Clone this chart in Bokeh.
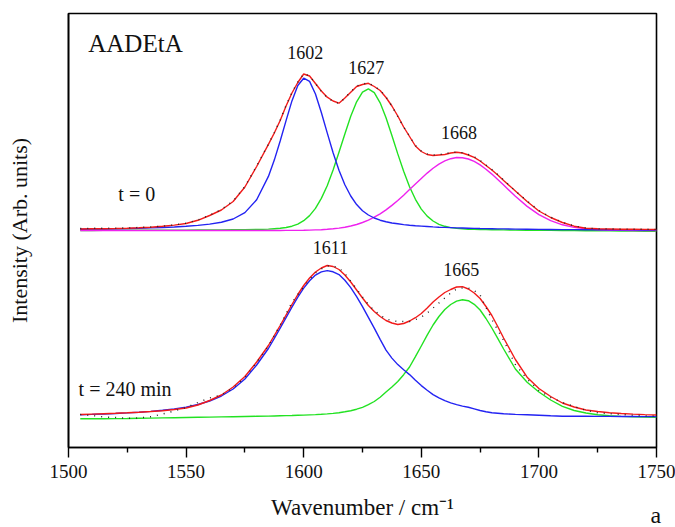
from bokeh.plotting import figure
from bokeh.models import Range1d, FixedTicker, Label, ColumnDataSource
from bokeh.embed import file_html
from bokeh.resources import INLINE
from bokeh.core.properties import value

# ---------------- data (arbitrary intensity units) -------------
wavenumber = [1505, 1510, 1515, 1520, 1525, 1530, 1535, 1540, 1545, 1550,
              1555, 1560, 1565, 1570, 1575, 1580,
              1585, 1587.5, 1590, 1592.5, 1595, 1597.5, 1600, 1602.5, 1605, 1607.5,
              1610, 1612.5, 1615, 1617.5, 1620, 1622.5, 1625, 1627.5, 1630, 1632.5,
              1635, 1637.5, 1640, 1642.5, 1645, 1647.5, 1650, 1652.5, 1655, 1657.5,
              1660, 1662.5, 1665, 1667.5, 1670, 1672.5, 1675, 1677.5, 1680, 1682.5,
              1685,
              1690, 1695, 1700, 1705, 1710, 1715, 1720, 1725, 1730, 1735,
              1740, 1745, 1750]

# t = 0 spectrum (upper)
t0_data = [219.0, 219.2, 219.3, 219.4, 219.6, 220.0, 220.5, 221.3, 222.6, 224.3,
           227.5, 232.3, 238.0, 246.5, 261.0, 281.5,
           303.5, 315.0, 327.5, 342.0, 355.0, 365.5, 373.8, 371.5, 364.0, 356.0,
           350.0, 346.0, 344.0, 349.5, 355.8, 361.5, 363.5, 364.5, 361.0, 357.5,
           350.5, 341.5, 331.0, 320.5, 311.5, 302.0, 296.5, 293.5, 292.5, 293.0,
           293.5, 295.0, 295.5, 294.8, 293.0, 290.8, 287.0, 282.5, 278.0, 273.0,
           267.5,
           256.5, 246.5, 237.0, 230.3, 225.2, 221.5, 219.5, 218.8, 218.6, 218.4,
           218.3, 218.2, 218.1]
t0_fit = [218.5, 218.7, 218.8, 219.0, 219.3, 219.7, 220.3, 221.2, 222.4, 224.0,
          227.2, 232.0, 237.5, 246.0, 260.5, 281.0,
          303.1, 314.5, 327.0, 341.5, 354.5, 365.0, 373.5, 371.5, 364.0, 356.5,
          350.3, 346.5, 344.3, 349.5, 355.3, 361.0, 363.0, 364.2, 361.0, 357.0,
          350.0, 341.5, 331.5, 320.5, 311.0, 301.5, 296.0, 293.0, 292.0, 292.5,
          293.0, 294.5, 295.3, 294.5, 292.5, 290.2, 286.5, 282.0, 277.5, 272.5,
          267.0,
          256.5, 246.0, 236.5, 230.0, 225.0, 221.3, 219.3, 218.7, 218.5, 218.3,
          218.2, 218.1, 218.0]
t0_band_1602 = [218.2, 218.4, 218.5, 218.7, 218.9, 219.2, 219.6, 220.0, 220.5, 221.2,
                222.1, 223.4, 225.3, 228.5, 234.9, 247.8,
                271.1, 287.4, 306.5, 326.9, 346.6, 362.0, 369.3, 366.1, 353.5, 335.0,
                314.6, 294.7, 277.2, 262.8, 251.5, 242.9, 236.8, 232.5, 229.5, 227.3,
                225.8, 224.5, 223.7, 222.9, 222.3, 221.8, 221.4, 221.0, 220.6, 220.3,
                220.1, 219.9, 219.6, 219.45, 219.3, 219.15, 219.0, 218.9, 218.8, 218.65,
                218.6,
                218.4, 218.3, 218.1, 218.0, 217.9, 217.9, 217.8, 217.7, 217.7, 217.6,
                217.6, 217.5, 217.5]
t0_band_1627 = [217.0, 217.0, 217.1, 217.1, 217.2, 217.2, 217.3, 217.3, 217.4, 217.4,
                217.5, 217.5, 217.6, 217.7, 217.8, 218.0,
                218.4, 218.8, 219.2, 220.0, 221.3, 223.4, 226.8, 231.9, 239.1, 249.1,
                261.8, 277.5, 295.2, 313.5, 331.2, 345.7, 355.4, 358.7, 354.9, 344.7,
                329.8, 312.0, 293.6, 276.2, 260.8, 248.2, 238.4, 231.4, 226.5, 223.2,
                221.2, 219.9, 219.1, 218.7, 218.3, 218.15, 218.0, 217.9, 217.8, 217.7,
                217.6,
                217.4, 217.3, 217.2, 217.1, 217.0, 216.9, 216.8, 216.7, 216.6, 216.5,
                216.4, 216.3, 216.3]
t0_band_1668 = [217.0, 217.0, 217.0, 217.0, 217.0, 217.0, 217.0, 217.0, 217.0, 217.0,
                217.0, 217.0, 217.0, 217.0, 217.0, 217.0,
                217.0, 217.0, 217.0, 217.1, 217.1, 217.15, 217.2, 217.4, 217.6, 217.8,
                218.2, 218.7, 219.4, 220.3, 221.5, 223.0, 225.0, 227.4, 230.3, 233.7,
                237.6, 242.1, 247.0, 252.3, 257.9, 263.5, 269.1, 274.4, 279.3, 283.4,
                286.6, 288.8, 290.0, 289.8, 288.5, 286.1, 282.6, 278.3, 273.4, 268.0,
                262.4,
                251.2, 241.1, 232.9, 226.9, 222.7, 220.1, 218.6, 217.8, 217.3, 217.1,
                217.0, 217.0, 217.0]

# t = 240 min spectrum (lower)
t240_data = [33.0, 32.0, 30.5, 30.0, 29.2, 29.5, 30.8, 33.5, 36.5, 40.0,
             45.0, 49.5, 52.5, 59.5, 70.0, 85.0,
             101.5, 112.0, 122.5, 133.5, 145.0, 153.0, 160.5, 168.0, 174.5, 178.5,
             181.5, 181.5, 179.5, 174.0, 166.5, 158.5, 150.5, 143.0, 137.0, 132.5,
             128.5, 127.0, 126.0, 126.0, 126.0, 127.8, 130.5, 134.5, 139.5, 144.5,
             149.5, 154.5, 158.5, 159.5, 159.5, 157.0, 152.5, 140.0, 128.0, 117.5,
             107.0,
             83.0, 68.5, 57.0, 50.0, 45.0, 41.0, 37.2, 34.7, 33.8, 33.0,
             32.3, 31.7, 31.3]
t240_fit = [33.0, 33.4, 33.8, 34.2, 34.7, 35.3, 36.0, 36.8, 38.0, 39.5,
            42.5, 47.0, 52.5, 60.5, 71.0, 85.5,
            102.0, 112.0, 122.0, 132.5, 143.0, 153.0, 162.0, 169.5, 175.5, 179.5,
            182.0, 181.0, 178.0, 172.5, 165.5, 157.5, 149.5, 142.0, 136.0, 131.0,
            127.0, 124.5, 123.0, 124.0, 126.5, 129.8, 134.0, 139.5, 145.5, 150.5,
            155.0, 158.0, 160.5, 160.8, 158.5, 154.5, 149.0, 141.0, 132.0, 121.0,
            109.5,
            88.0, 70.3, 59.0, 51.0, 44.5, 40.5, 37.5, 36.0, 34.8, 34.0,
            33.4, 32.9, 32.5]
t240_band_1611 = [32.8, 33.1, 33.5, 34.0, 34.6, 35.3, 36.1, 37.2, 38.6, 40.4,
                  43.0, 46.5, 51.5, 58.5, 68.5, 82.5,
                  99.0, 109.2, 119.4, 129.9, 140.4, 150.4, 159.4, 166.7, 172.4, 175.6,
                  176.9, 175.7, 172.9, 167.2, 159.9, 150.9, 140.9, 130.2, 119.4, 108.2,
                  97.4, 89.4, 82.9, 77.7, 72.9, 67.2, 61.9, 57.2, 52.9, 49.7,
                  46.9, 44.7, 42.9, 41.4, 40.2, 38.6, 37.0, 35.8, 34.7, 34.2,
                  33.7,
                  33.1, 32.7, 32.2, 31.7, 31.3, 31.2, 31.2, 31.1, 31.1, 31.0,
                  31.0, 30.9, 30.9]
t240_band_1665 = [28.7, 28.7, 28.8, 28.9, 29.0, 29.2, 29.4, 29.6, 29.8, 30.0,
                  30.2, 30.4, 30.6, 30.8, 31.0, 31.2,
                  31.4, 31.55, 31.7, 31.85, 32.0, 32.2, 32.4, 32.65, 32.9, 33.2,
                  33.6, 34.1, 34.8, 35.7, 36.8, 38.3, 40.2, 42.8, 46.0, 50.3,
                  55.5, 60.5, 66.0, 72.8, 80.5, 90.8, 101.5, 112.3, 122.5, 131.0,
                  138.0, 143.0, 146.4, 147.7, 146.8, 143.2, 137.5, 129.0, 119.5, 109.2,
                  98.5,
                  78.5, 65.3, 55.5, 47.5, 41.2, 37.0, 34.5, 32.7, 31.7, 31.1,
                  30.7, 30.5, 30.3]

peak_labels = ["1602", "1627", "1668", "1611", "1665"]
peak_label_x = [1600.7, 1626.6, 1666.0, 1611.4, 1667.0]
peak_label_y = [395, 380, 315, 200, 178]

side_labels = ["AADEtA", "t = 0", "t = 240 min"]
side_label_x = [1508.4, 1521.2, 1504.3]
side_label_y = [404, 254, 59]
side_label_size = ["25px", "20px", "20px"]

x_ticks = [1500, 1550, 1600, 1650, 1700, 1750]
x_minor_ticks = [1525, 1575, 1625, 1675, 1725]

# ---------------- styling ----------------
FONT = "Liberation Serif"
RED = "#f21a1a"
BLUE = "#2323f2"
GREEN = "#22e222"
MAGENTA = "#ee22ee"
INK = "#111111"

p = figure(width=675, height=527,
           x_range=Range1d(1500, 1750), y_range=Range1d(0, 434),
           output_backend="svg", toolbar_location=None,
           min_border_left=68, min_border_right=19,
           min_border_top=13, min_border_bottom=80)

p.xgrid.visible = False
p.ygrid.visible = False
p.outline_line_color = "black"
p.outline_line_width = 1.6
p.background_fill_color = "white"
p.border_fill_color = "white"

src = ColumnDataSource(dict(x=wavenumber,
                            t0_data=t0_data, t0_fit=t0_fit,
                            t0_b1=t0_band_1602, t0_b2=t0_band_1627, t0_b3=t0_band_1668,
                            t240_data=t240_data, t240_fit=t240_fit,
                            t240_b1=t240_band_1611, t240_b2=t240_band_1665))

lw = 1.4
# upper spectrum components
p.line("x", "t0_b2", source=src, line_color=GREEN, line_width=lw)
p.line("x", "t0_b3", source=src, line_color=MAGENTA, line_width=lw)
p.line("x", "t0_b1", source=src, line_color=BLUE, line_width=lw)
p.line("x", "t0_fit", source=src, line_color=RED, line_width=lw)
p.line("x", "t0_data", source=src, line_color="#222222", line_width=1.4, line_dash="1 6")
# lower spectrum components
p.line("x", "t240_b2", source=src, line_color=GREEN, line_width=lw)
p.line("x", "t240_b1", source=src, line_color=BLUE, line_width=lw)
p.line("x", "t240_fit", source=src, line_color=RED, line_width=lw)
p.line("x", "t240_data", source=src, line_color="#222222", line_width=1.4, line_dash="1 6")

# peak position labels
p.text(x=peak_label_x, y=peak_label_y, text=peak_labels,
       text_font=value(FONT), text_font_size="18px", text_color=INK,
       text_align="center", text_baseline="alphabetic")
# sample / time labels
for t, xx, yy, sz in zip(side_labels, side_label_x, side_label_y, side_label_size):
    p.add_layout(Label(x=xx, y=yy, text=t, text_font=FONT, text_font_size=sz,
                       text_color=INK, text_align="left",
                       text_baseline="alphabetic"))

# axes
xa = p.xaxis[0]
xa.ticker = FixedTicker(ticks=x_ticks, minor_ticks=x_minor_ticks)
xa.axis_label = "Wavenumber / cm\u207b\u00b9"
xa.axis_label_text_font = FONT
xa.axis_label_text_font_size = "23px"
xa.axis_label_text_font_style = "normal"
xa.axis_label_text_color = INK
xa.axis_label_standoff = 14
xa.major_label_text_font = FONT
xa.major_label_text_font_size = "19px"
xa.major_label_text_color = INK
xa.major_label_standoff = 7
xa.major_tick_in = 0
xa.major_tick_out = 10
xa.minor_tick_in = 0
xa.minor_tick_out = 5
xa.axis_line_width = 1.6
xa.major_tick_line_width = 1.4
xa.minor_tick_line_width = 1.4
xa.axis_line_color = "black"

ya = p.yaxis[0]
ya.ticker = FixedTicker(ticks=[])
ya.major_tick_in = 0
ya.major_tick_out = 0
ya.minor_tick_in = 0
ya.minor_tick_out = 0
ya.major_label_text_font_size = "0px"
ya.axis_label = "Intensity (Arb. units)"
ya.axis_label_text_font = FONT
ya.axis_label_text_font_size = "22px"
ya.axis_label_text_font_style = "normal"
ya.axis_label_text_color = INK
ya.axis_label_standoff = 37
ya.axis_line_width = 1.6
ya.axis_line_color = "black"

# panel letter, placed in the (narrow) right side panel so that it is not clipped to the frame
p.add_layout(Label(x=1747.4, y=-67, text="a", text_font=FONT, text_font_size="24px",
                   text_color=INK, text_align="left", text_baseline="alphabetic"),
             "right")

open("out.html", "w").write(file_html(p, INLINE))
